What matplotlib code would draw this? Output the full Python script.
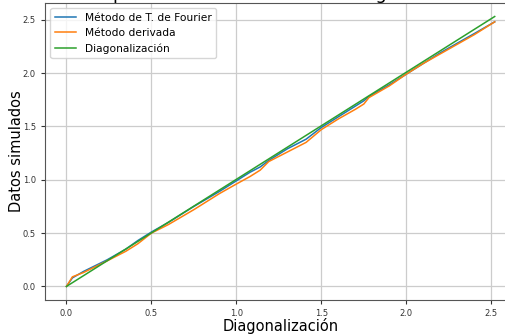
import matplotlib
matplotlib.use('Agg')
import matplotlib.pyplot as plt

# eigenvalues from diagonalization (x axis) and the two simulated methods
x_vals = [0.0, 0.035, 0.1, 0.24, 0.35, 0.42, 0.5, 0.6, 0.75, 0.9, 1.0, 1.08,
          1.14, 1.19, 1.3, 1.41, 1.5, 1.6, 1.7, 1.75, 1.78, 1.9, 2.0, 2.1,
          2.2, 2.3, 2.4, 2.52]
fourier = [0.0, 0.08, 0.14, 0.25, 0.35, 0.43, 0.51, 0.60, 0.75, 0.89, 0.99,
           1.07, 1.12, 1.18, 1.29, 1.38, 1.49, 1.59, 1.69, 1.74, 1.78, 1.89,
           1.99, 2.09, 2.19, 2.28, 2.37, 2.48]
derivada = [0.0, 0.09, 0.13, 0.24, 0.33, 0.40, 0.50, 0.58, 0.72, 0.87, 0.96,
            1.03, 1.09, 1.17, 1.26, 1.35, 1.47, 1.57, 1.66, 1.71, 1.77, 1.88,
            1.99, 2.09, 2.18, 2.27, 2.36, 2.48]
diag_x = [0.0, 2.52]
diag_y = [0.0, 2.53]

fig = plt.figure(figsize=(5.06, 3.34), dpi=100)
ax = fig.add_axes([0.089, 0.102, 0.931, 0.889])

ax.plot(x_vals, fourier, label='Método de T. de Fourier', linewidth=1.1)
ax.plot(x_vals, derivada, label='Método derivada', linewidth=1.1)
ax.plot(diag_x, diag_y, label='Diagonalización', linewidth=1.1)

ax.set_title('Comparación de métodos con diagonalización', fontsize=13, pad=3)
ax.set_xlabel('Diagonalización', fontsize=10.5, labelpad=0)
ax.set_ylabel('Datos simulados', fontsize=10.5, labelpad=-1)
ax.tick_params(labelsize=6, colors='#333333', length=3)
ax.grid(True, color='#cccccc', linewidth=0.9)
for s in ax.spines.values():
    s.set_color('#555555')
ax.legend(loc='upper left', fontsize=7.7)

plt.savefig('out.png', dpi=100)
